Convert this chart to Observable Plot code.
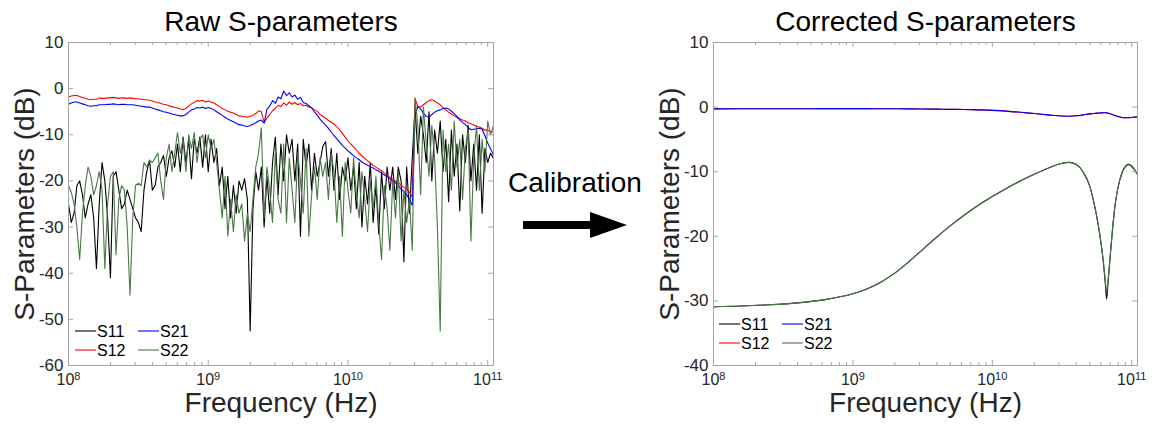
<!DOCTYPE html>
<html>
<head>
<meta charset="utf-8">
<script src="https://cdn.jsdelivr.net/npm/d3@7"></script>
<script src="https://cdn.jsdelivr.net/npm/@observablehq/plot@0.6"></script>
<style>
  html, body { margin: 0; padding: 0; background: #fff; }
  #wrap { position: relative; width: 1155px; height: 424px; overflow: hidden; font-family: "Liberation Sans", Arial, sans-serif; }
  #wrap > svg { position: absolute; top: 0; }
  #calib { position: absolute; left: 480px; top: 0; width: 190px; height: 424px; }
</style>
</head>
<body>
<div id="wrap"></div>
<script>
// ---------- data ----------
const seriesNames = ["S11", "S12", "S21", "S22"];
const seriesColors = ["#000000", "#ff0000", "#0000ff", "#4b7847"];

// raw measurement sample grid: log10(f) from 8.00 to 11.04 in steps of 0.02
const rawStartExp = 8.0;
const rawStepExp = 0.02;

const rawS11 = [
  -25, -29, -27, -21, -20, -23, -28, -25, -23, -28, -39, -25, -16, -20, -28, -41, -19, -18, -22, -26, -25, -22, -24, -26, -28, -29, -31, -22, -18, -15.5, -22, -21,
  -17, -16, -14.5, -19, -15, -13.5, -17, -12, -18, -10.5, -16, -11, -19.5, -11, -14, -10.5, -17, -10, -18, -11, -16, -13, -21, -17, -26, -19, -28, -21, -27, -20,
  -22, -19.5, -24, -52.5, -26, -18, -22, -17, -30, -19, -27, -16, -10.5, -23, -12, -20, -10, -14, -11, -20, -12, -32, -11, -17, -12, -22, -14, -19, -16, -12.5,
  -11.5, -19, -13, -22, -14, -24, -17, -20, -15, -22, -17, -26, -16, -30, -19, -25, -16, -29, -21, -31.5, -18, -26, -17, -22, -17, -24, -17, -20, -37.5, -17, -27,
  -15, -4, -14, -6, -10, -16, -5, -20, -9, -14, -7, -18, -11, -24.5, -9, -19, -12, -26.5, -10, -16, -8, -20, -12, -22, -10, -27, -13, -16, -14, -15
];
const rawS12 = [
  -1.8, -1.6, -1.5, -1.5, -1.7, -1.9, -2.1, -2.3, -2.4, -2.3, -2.3, -2.0, -2.1, -2.1, -2.0, -2.0, -1.9, -2.0, -2.1, -2.0, -2.0, -2.1, -2.0, -2.1, -2.2, -2.2, -2.3, -2.4, -2.4, -2.5, -2.7, -2.9,
  -3.0, -3.2, -3.4, -3.5, -3.7, -3.9, -4.1, -4.2, -4.4, -4.5, -4.3, -3.8, -3.3, -3.0, -2.6, -2.7, -2.5, -2.9, -2.7, -2.9, -3.1, -3.5, -3.9, -4.3, -4.6, -4.9, -5.1, -5.3, -5.6, -5.9,
  -6.0, -6.1, -6.2, -6.0, -5.8, -5.4, -4.8, -5.0, -7.3, -6.4, -5.6, -4.8, -4.3, -3.6, -3.9, -3.1, -3.6, -2.9, -3.4, -3.0, -3.5, -3.2, -3.7, -3.6, -4.0, -4.1, -4.6, -4.9, -5.6, -6.0,
  -6.4, -6.9, -7.3, -7.7, -8.3, -8.9, -9.7, -10.5, -11.3, -12.0, -12.6, -13.3, -14.0, -14.6, -15.1, -15.6, -16.1, -16.6, -17.0, -17.4, -17.8, -18.3, -18.8, -19.2, -19.6, -20.0, -20.4, -20.9, -21.4, -21.8, -22.4,
  -23.5, -2.2, -3.8, -4.0, -3.5, -3.0, -2.6, -2.4, -2.7, -3.1, -3.5, -4.1, -4.6, -5.1, -5.5, -5.9, -6.3, -6.5, -6.8, -7.0, -7.4, -7.6, -7.9, -8.2, -8.3, -8.6, -9.0, -9.0, -9.3, -9.4
];
const rawS21 = [
  -3.4, -3.1, -2.9, -2.9, -3.1, -3.3, -3.5, -3.7, -3.8, -3.7, -3.7, -3.5, -3.5, -3.5, -3.4, -3.4, -3.3, -3.4, -3.5, -3.4, -3.4, -3.5, -3.5, -3.5, -3.6, -3.7, -3.8, -3.9, -4.0, -4.0, -4.2, -4.4,
  -4.6, -4.8, -5.0, -5.1, -5.3, -5.5, -5.6, -5.8, -5.9, -5.9, -5.6, -5.1, -4.6, -4.4, -4.1, -4.2, -4.0, -4.3, -4.1, -4.3, -4.6, -5.0, -5.4, -5.8, -6.2, -6.6, -6.9, -7.2, -7.5, -7.8,
  -7.9, -8.1, -8.2, -8.0, -7.7, -7.4, -7.0, -6.8, -7.5, -4.5, -3.8, -2.6, -3.2, -1.8, -2.2, -0.5, -1.5, -0.9, -1.8, -1.4, -2.3, -1.9, -3.0, -3.2, -3.7, -4.2, -5.0, -5.8, -6.6, -7.3,
  -7.9, -8.6, -9.4, -10.2, -10.9, -11.6, -12.3, -12.9, -13.5, -14.0, -14.5, -15.0, -15.4, -15.9, -16.3, -16.6, -16.9, -17.2, -17.6, -17.9, -18.3, -18.7, -19.1, -19.5, -20.0, -20.4, -21.0, -21.7, -22.3, -23.0, -24.0,
  -25.3, -6.0, -3.9, -4.4, -5.3, -6.0, -6.2, -5.6, -5.1, -4.8, -4.6, -4.3, -4.2, -4.4, -4.9, -5.4, -6.0, -6.8, -7.3, -7.8, -8.4, -8.9, -8.8, -8.7, -8.6, -8.8, -10.2, -11.8, -13.0, -14.3
];
const rawS22 = [
  -21, -22.5, -25, -30, -37, -27, -21, -17, -19, -23, -21, -18, -22, -39, -25, -19, -18, -36, -24, -21, -22, -30, -44.7, -28, -21, -20.5, -21, -16, -17, -15.5, -16, -15,
  -14, -20, -24, -15, -12, -18, -14, -9.5, -14, -11, -18, -10, -13, -9.5, -16, -11, -10, -15, -10, -13, -11, -16, -22, -28, -19, -32, -24, -31, -23, -27,
  -25, -33, -27, -31, -24, -17, -14, -8.5, -28, -17, -22, -29, -14, -24, -27, -12, -29, -15, -22, -29, -14, -20, -27, -13, -32, -23, -17, -24, -15, -19,
  -16, -24, -14, -18, -29, -19, -32, -16, -22, -27, -15, -23, -28, -18, -24, -31, -20, -26, -19, -29, -37, -21, -26, -35, -20, -28, -18, -33, -22, -29, -24,
  -35, -2, -8, -23, -4, -12, -19, -8, -15, -30, -52.5, -9, -18, -12, -22, -7, -17, -11, -24, -13, -9, -33, -15, -8, -22, -11, -18, -7, -10, -8
];

// corrected: log10(f) sample points and values
const corrExp = [8.0, 8.2, 8.4, 8.6, 8.8, 9.0, 9.1, 9.2, 9.3, 9.4, 9.5, 9.6, 9.7, 9.8, 9.9, 10.0, 10.1, 10.2, 10.3, 10.4, 10.5, 10.55, 10.6, 10.65, 10.7, 10.73, 10.76, 10.78, 10.8, 10.81, 10.82, 10.83, 10.84, 10.86, 10.88, 10.9, 10.93, 10.96, 10.98, 11.0, 11.02, 11.04];
const corrS11 = [-30.9, -30.8, -30.6, -30.3, -29.8, -28.9, -28.15, -27.1, -25.7, -23.95, -22.05, -20.15, -18.35, -16.7, -15.2, -13.85, -12.6, -11.45, -10.4, -9.45, -8.7, -8.55, -8.85, -10.0, -12.3, -14.9, -18.3, -21.2, -24.8, -27.2, -29.7, -27.2, -24.6, -19.5, -15.3, -12.6, -10.2, -9.1, -8.9, -9.2, -9.7, -10.4];
const corrS12 = [-0.27, -0.26, -0.25, -0.25, -0.24, -0.24, -0.24, -0.25, -0.26, -0.27, -0.29, -0.32, -0.35, -0.38, -0.43, -0.5, -0.62, -0.8, -1.0, -1.2, -1.38, -1.42, -1.35, -1.2, -1.05, -0.98, -0.93, -0.9, -0.88, -0.88, -0.9, -0.95, -1.0, -1.15, -1.3, -1.45, -1.6, -1.66, -1.65, -1.6, -1.55, -1.55];
const corrS21 = [-0.27, -0.26, -0.25, -0.25, -0.24, -0.24, -0.24, -0.25, -0.26, -0.27, -0.29, -0.32, -0.35, -0.38, -0.43, -0.5, -0.62, -0.8, -1.0, -1.2, -1.38, -1.42, -1.35, -1.2, -1.05, -0.98, -0.93, -0.9, -0.88, -0.88, -0.9, -0.95, -1.0, -1.15, -1.3, -1.45, -1.6, -1.66, -1.65, -1.6, -1.55, -1.55];
const corrS22 = [-30.9, -30.8, -30.6, -30.3, -29.8, -28.9, -28.15, -27.1, -25.7, -23.95, -22.05, -20.15, -18.35, -16.7, -15.2, -13.85, -12.6, -11.45, -10.4, -9.45, -8.7, -8.55, -8.85, -10.0, -12.3, -14.9, -18.2, -21.0, -24.5, -26.8, -28.6, -26.8, -24.4, -19.4, -15.2, -12.6, -10.1, -9.0, -8.8, -9.1, -9.6, -10.4];

const rawYTicks = [10, 0, -10, -20, -30, -40, -50, -60];
const corrYTicks = [10, 0, -10, -20, -30, -40];
const xMajor = [1e8, 1e9, 1e10, 1e11];
const xDomain = [1e8, 1.1e11];

// ---------- helpers ----------
function tidy(exps, arrays) {
  const rows = [];
  arrays.forEach((arr, si) => {
    arr.forEach((v, i) => rows.push({s: seriesNames[si], f: Math.pow(10, exps[i]), db: v}));
  });
  return rows;
}
const rawExps = rawS11.map((_, i) => rawStartExp + i * rawStepExp);
const rawData = tidy(rawExps, [rawS11, rawS12, rawS21, rawS22]);
const corrData = tidy(corrExp, [corrS11, corrS12, corrS21, corrS22]);

const xMinor = [];
for (const d of [1e8, 1e9, 1e10]) for (let k = 2; k <= 9; k++) xMinor.push(k * d);

const FONT = '"Liberation Sans", Arial, Helvetica, sans-serif';
const AX = "#a6a6a6";

function sPlot(o) {
  const H = 424, mt = 42, mb = 59;
  const pw = o.width - o.ml - o.mr, ph = H - mt - mb;
  const svg = Plot.plot({
    width: o.width, height: H,
    marginLeft: o.ml, marginRight: o.mr, marginTop: mt, marginBottom: mb,
    style: {fontFamily: FONT, fontSize: "17px", color: "#262626", background: "transparent", overflow: "visible"},
    x: {type: "log", domain: xDomain},
    y: {domain: o.yDomain},
    color: {domain: seriesNames, range: seriesColors},
    marks: [
      Plot.line(o.data, {x: "f", y: "db", z: "s", stroke: "s", strokeWidth: 1.1, curve: o.curve}),
      Plot.frame({stroke: AX, strokeWidth: 1}),
      Plot.tickX(xMajor, {x: d => d, insetTop: ph - 5, stroke: AX}),
      Plot.tickX(xMajor, {x: d => d, insetBottom: ph - 5, stroke: AX}),
      Plot.tickX(xMinor, {x: d => d, insetTop: ph - 3, stroke: AX}),
      Plot.tickX(xMinor, {x: d => d, insetBottom: ph - 3, stroke: AX}),
      Plot.tickY(o.yTicks, {y: d => d, insetRight: pw - 5, stroke: AX}),
      Plot.tickY(o.yTicks, {y: d => d, insetLeft: pw - 5, stroke: AX}),
      Plot.axisX({ticks: xMajor, tickSize: 0, tickPadding: 8, fontSize: 16, label: null,
                  tickFormat: d => "10^" + Math.round(Math.log10(d))}),
      Plot.axisY({ticks: o.yTicks, tickSize: 0, tickPadding: 5, fontSize: 17, label: null,
                  tickFormat: d => String(d)}),
      Plot.text([o.title], {text: d => d, frameAnchor: "top", textAnchor: "middle", dy: -12, lineAnchor: "bottom", fontSize: 28, fill: "#000"}),
      Plot.text(["Frequency (Hz)"], {text: d => d, frameAnchor: "bottom", textAnchor: "middle", dy: 46, lineAnchor: "bottom", fontSize: 28, fill: "#262626"}),
      Plot.text(["S-Parameters (dB)"], {text: d => d, frameAnchor: "left", textAnchor: "middle", dx: -35, rotate: -90, lineAnchor: "bottom", fontSize: 28, fill: "#262626"})
    ]
  });
  // superscript exponents on x tick labels
  svg.querySelectorAll('g[aria-label^="x-axis tick label"] text').forEach(t => {
    const parts = t.textContent.split("^");
    if (parts.length !== 2) return;
    t.textContent = parts[0];
    const ts = document.createElementNS("http://www.w3.org/2000/svg", "tspan");
    ts.setAttribute("dy", "-0.45em");
    ts.setAttribute("font-size", "11px");
    ts.textContent = parts[1];
    t.appendChild(ts);
  });
  // legend (two columns, MATLAB style)
  const lg = d3.select(svg).append("g")
    .attr("font-family", FONT).attr("font-size", 16).attr("fill", "#000").attr("text-anchor", "start");
  const slots = [[0, 0], [0, 1], [1, 0], [1, 1]]; // S11,S12,S21,S22 -> [col,row]
  seriesNames.forEach((name, i) => {
    const [c, r] = slots[i];
    const x = o.lg.x0 + c * o.lg.colGap, y = o.lg.y0 + r * o.lg.rowGap;
    lg.append("line").attr("x1", x).attr("x2", x + 21).attr("y1", y).attr("y2", y)
      .attr("stroke", seriesColors[i]).attr("stroke-width", 1.1);
    lg.append("text").attr("x", x + 22).attr("y", y).attr("dy", "0.36em")
      .attr("text-anchor", "start").style("font-size", "16px").text(name);
  });
  svg.style.left = o.left + "px";
  return svg;
}

const wrap = document.getElementById("wrap");
wrap.appendChild(sPlot({
  data: rawData, yDomain: [-60, 10], yTicks: rawYTicks, width: 510, ml: 68, mr: 17, left: 0,
  title: "Raw S-parameters", curve: "linear",
  lg: {x0: 75, colGap: 63, y0: 331, rowGap: 19}
}));
wrap.appendChild(sPlot({
  data: corrData, yDomain: [-40, 10], yTicks: corrYTicks, width: 515, ml: 73, mr: 18, left: 640,
  title: "Corrected S-parameters", curve: "monotone-x",
  lg: {x0: 79, colGap: 63, y0: 324, rowGap: 19}
}));

// calibration arrow
const cal = d3.select(wrap).append("svg").attr("id", "calib").attr("width", 190).attr("height", 424);
cal.append("text").attr("x", 95).attr("y", 192).attr("text-anchor", "middle")
  .attr("font-family", FONT).attr("font-size", 28).attr("fill", "#000").text("Calibration");
cal.append("rect").attr("x", 43).attr("y", 221).attr("width", 72).attr("height", 8).attr("fill", "#000");
cal.append("polygon").attr("points", "110,212 147,225 110,238").attr("fill", "#000");
</script>
</body>
</html>
